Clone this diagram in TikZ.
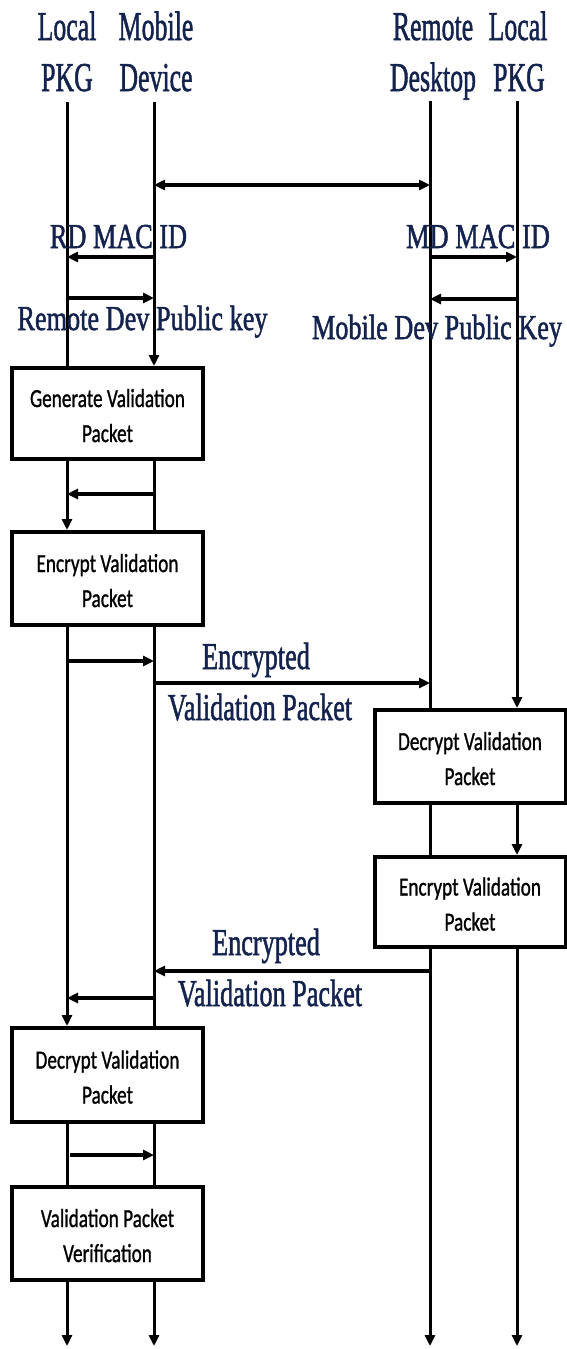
\documentclass[tikz,border=0pt]{standalone}
\usepackage{fontspec}
\setmainfont{Liberation Serif}[FakeBold=1.6]
\newfontfamily\boxfont{Carlito}[FakeBold=1.2]
\usetikzlibrary{arrows.meta}
\definecolor{navy}{RGB}{20,34,78}
\newcommand\sz[3]{\scalebox{#2}[1]{\fontsize{#1}{#1}\selectfont #3}}
\newcommand\bt[2]{\scalebox{0.74}[1]{\boxfont\fontsize{26}{35}\selectfont\begin{tabular}{@{}c@{}}#1\\#2\end{tabular}}}
\begin{document}
\begin{tikzpicture}[x=1pt,y=-1pt,
  life/.style={line width=3pt},
  lifearr/.style={line width=3pt,-{Triangle[length=11pt,width=10pt]}},
  msg/.style={line width=3.2pt,-{Triangle[length=11pt,width=10pt]}},
  dmsg/.style={line width=3.2pt,{Triangle[length=11pt,width=10pt]}-{Triangle[length=11pt,width=10pt]}},
  box/.style={draw,line width=4pt,fill=white,minimum width=191pt,inner sep=0pt},
  btxt/.style={inner sep=0pt,text=black,font=\boxfont},
  lbl/.style={text=navy,inner sep=0pt,anchor=base},
]
\useasboundingbox (0,0) rectangle (566,1349);

% headers
\node[lbl] (h1a) at (67,40) {\sz{41}{0.63}{Local}};
\node[lbl] (h1b) at (67,91) {\sz{41}{0.63}{PKG}};
\node[lbl] (h2a) at (156,40) {\sz{41}{0.63}{Mobile}};
\node[lbl] (h2b) at (156,91) {\sz{41}{0.63}{Device}};
\node[lbl] (h3a) at (433,40) {\sz{41}{0.63}{Remote}};
\node[lbl] (h3b) at (433,91) {\sz{41}{0.63}{Desktop}};
\node[lbl] (h4a) at (518,40) {\sz{41}{0.63}{Local}};
\node[lbl] (h4b) at (519,91) {\sz{41}{0.63}{PKG}};

% lifeline tops and bottoms
\coordinate (t1) at (67,102);
\coordinate (t2) at (154,102);
\coordinate (t3) at (430,101);
\coordinate (t4) at (517,101);
\coordinate (e1) at (67,1346);
\coordinate (e2) at (154,1346);
\coordinate (e3) at (430,1346);
\coordinate (e4) at (517,1346);

% boxes
\node[box,minimum height=91pt] (b1) at (107.5,413.5) {};
\node[box,minimum height=93pt] (b2) at (107.5,578.5) {};
\node[box,minimum height=93pt] (b3) at (470,756.5) {};
\node[box,minimum height=90pt] (b4) at (470,902) {};
\node[box,minimum height=94pt] (b5) at (107.5,1075) {};
\node[box,minimum height=93pt] (b6) at (107.5,1233.5) {};
\node[btxt] (b1t) at ([yshift=-4pt]b1.center) {\bt{Generate Validation}{Packet}};
\node[btxt] (b2t) at ([yshift=-4pt]b2.center) {\bt{Encrypt Validation}{Packet}};
\node[btxt] (b3t) at ([yshift=-4pt]b3.center) {\bt{Decrypt Validation}{Packet}};
\node[btxt] (b4t) at ([yshift=-4pt]b4.center) {\bt{Encrypt Validation}{Packet}};
\node[btxt] (b5t) at ([yshift=-4pt]b5.center) {\bt{Decrypt Validation}{Packet}};
\node[btxt] (b6t) at ([yshift=-4pt]b6.center) {\bt{Validation Packet}{Verification}};

% lifelines
\draw[life] (t1) -- (t1 |- b1.north);
\draw[lifearr] (t2) -- (t2 |- b1.north);
\draw[lifearr] (t1 |- b1.south) -- (t1 |- b2.north);
\draw[life] (t2 |- b1.south) -- (t2 |- b2.north);
\draw[lifearr] (t1 |- b2.south) -- (t1 |- b5.north);
\draw[life] (t2 |- b2.south) -- (t2 |- b5.north);
\draw[life] (t1 |- b5.south) -- (t1 |- b6.north);
\draw[life] (t2 |- b5.south) -- (t2 |- b6.north);
\draw[lifearr] (t1 |- b6.south) -- (e1);
\draw[lifearr] (t2 |- b6.south) -- (e2);
\draw[life] (t3) -- (t3 |- b3.north);
\draw[lifearr] (t4) -- (t4 |- b3.north);
\draw[life] (t3 |- b3.south) -- (t3 |- b4.north);
\draw[lifearr] (t4 |- b3.south) -- (t4 |- b4.north);
\draw[lifearr] (t3 |- b4.south) -- (e3);
\draw[lifearr] (t4 |- b4.south) -- (e4);

% message end points
\coordinate (m0a) at (154,185);  \coordinate (m0b) at (430,185);
\coordinate (m1a) at (154,257);  \coordinate (m1b) at (67,257);
\coordinate (m2a) at (430,257);  \coordinate (m2b) at (517,257);
\coordinate (m3a) at (67,298);   \coordinate (m3b) at (154,298);
\coordinate (m4a) at (517,299);  \coordinate (m4b) at (430,299);
\coordinate (m5a) at (154,494);  \coordinate (m5b) at (67,494);
\coordinate (m6a) at (67,661);   \coordinate (m6b) at (154,661);
\coordinate (m7a) at (154,683);  \coordinate (m7b) at (430,683);
\coordinate (m8a) at (430,971);  \coordinate (m8b) at (154,971);
\coordinate (m9a) at (154,998);  \coordinate (m9b) at (67,998);
\coordinate (m10a) at (70,1155); \coordinate (m10b) at (154,1155);

\draw[dmsg] (m0a) -- (m0b);
\draw[msg] (m1a) -- (m1b);
\draw[msg] (m2a) -- (m2b);
\draw[msg] (m3a) -- (m3b);
\draw[msg] (m4a) -- (m4b);
\draw[msg] (m5a) -- (m5b);
\draw[msg] (m6a) -- (m6b);
\draw[msg] (m7a) -- (m7b);
\draw[msg] (m8a) -- (m8b);
\draw[msg] (m9a) -- (m9b);
\draw[msg] (m10a) -- (m10b);

% message labels
\node[lbl] (l1) at (118.5,248) {\sz{35}{0.75}{RD MAC ID}};
\node[lbl] (l2) at (478,248) {\sz{35}{0.755}{MD MAC ID}};
\node[lbl] (l3) at (142.5,330) {\sz{35}{0.75}{Remote Dev Public key}};
\node[lbl] (l4) at (437,339) {\sz{35}{0.75}{Mobile Dev Public Key}};
\node[lbl] (l5) at (256,669) {\sz{38}{0.69}{Encrypted}};
\node[lbl] (l6) at (260,720) {\sz{38}{0.69}{Validation Packet}};
\node[lbl] (l7) at (266,955) {\sz{38}{0.69}{Encrypted}};
\node[lbl] (l8) at (270,1006) {\sz{38}{0.69}{Validation Packet}};
\end{tikzpicture}
\end{document}
